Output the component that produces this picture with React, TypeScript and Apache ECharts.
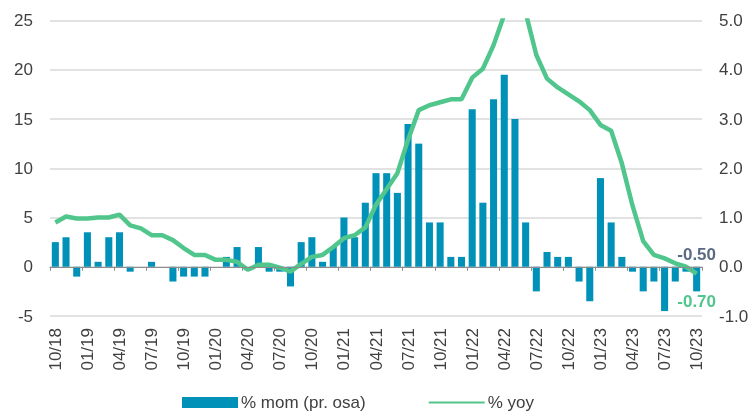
import React, { useEffect, useRef } from "react";
import * as echarts from "echarts";

const categories = [
  "10/18","11/18","12/18","01/19","02/19","03/19","04/19","05/19","06/19","07/19","08/19","09/19",
  "10/19","11/19","12/19","01/20","02/20","03/20","04/20","05/20","06/20","07/20","08/20","09/20",
  "10/20","11/20","12/20","01/21","02/21","03/21","04/21","05/21","06/21","07/21","08/21","09/21",
  "10/21","11/21","12/21","01/22","02/22","03/22","04/22","05/22","06/22","07/22","08/22","09/22",
  "10/22","11/22","12/22","01/23","02/23","03/23","04/23","05/23","06/23","07/23","08/23","09/23",
  "10/23",
];

// % mom (right axis)
const momValues = [
  0.5, 0.6, -0.2, 0.7, 0.1, 0.6, 0.7, -0.1, 0.0, 0.1, 0.0, -0.3,
  -0.2, -0.2, -0.2, 0.0, 0.2, 0.4, 0.0, 0.4, -0.1, -0.1, -0.4, 0.5,
  0.6, 0.1, 0.4, 1.0, 0.6, 1.3, 1.9, 1.9, 1.5, 2.9, 2.5, 0.9,
  0.9, 0.2, 0.2, 3.2, 1.3, 3.4, 3.9, 3.0, 0.9, -0.5, 0.3, 0.2,
  0.2, -0.3, -0.7, 1.8, 0.9, 0.2, -0.1, -0.5, -0.3, -0.9, -0.3, -0.1,
  -0.5,
];

// % yoy (left axis)
const yoyValues = [
  4.5, 5.1, 4.9, 4.9, 5.0, 5.0, 5.3, 4.2, 3.9, 3.2, 3.2, 2.7,
  1.9, 1.2, 1.2, 0.7, 0.7, 0.5, -0.3, 0.2, 0.2, -0.1, -0.5, 0.3,
  1.0, 1.2, 2.0, 2.9, 3.2, 4.0, 6.3, 7.9, 9.5, 12.9, 15.9, 16.4,
  16.7, 17.0, 17.0, 19.2, 20.1, 22.5, 25.6, 27.5, 25.8, 21.5, 19.1, 18.2,
  17.5, 16.8, 15.9, 14.4, 13.8, 10.5, 6.2, 2.6, 1.2, 0.85, 0.35, 0.0,
  -0.7,
];

const leftTicks = { min: -5, max: 25, interval: 5 };
const rightTicks = { min: -1, max: 5, interval: 1 };
const seriesNames = ["% mom (pr. osa)", "% yoy"];

const BAR_COLOR = "#0091B9";
const LINE_COLOR = "#50C68C";
const FONT = "'Liberation Sans', Arial, sans-serif";

export default function App() {
  const ref = useRef<HTMLDivElement>(null);

  useEffect(() => {
    if (!ref.current) return;
    const chart = echarts.init(ref.current, undefined, { renderer: "svg" });
    const last = categories.length - 1;

    const barData = momValues.map((v, i) =>
      i === last
        ? {
            value: v,
            label: {
              show: true,
              position: "top",
              distance: 4,
              formatter: (p: any) => Number(p.value).toFixed(2),
              color: "#5B6A84",
              fontSize: 17,
              fontWeight: "bold",
              fontFamily: FONT,
            },
          }
        : v
    );
    const lineData = yoyValues.map((v, i) =>
      i === last
        ? {
            value: v,
            symbol: "circle",
            symbolSize: 0.01,
            label: {
              show: true,
              position: "bottom",
              distance: 19,
              formatter: (p: any) => Number(p.value).toFixed(2),
              color: LINE_COLOR,
              fontSize: 17,
              fontWeight: "bold",
              fontFamily: FONT,
            },
          }
        : { value: v, symbol: "none" }
    );

    chart.setOption({
      animation: false,
      textStyle: { fontFamily: FONT },
      grid: { left: 50, right: 50, top: 20.5, bottom: 98, containLabel: false },
      legend: {
        data: [
          { name: seriesNames[0], icon: "rect" },
          { name: seriesNames[1], itemStyle: { opacity: 0 } },
        ],
        left: 177,
        top: 389,
        itemWidth: 56,
        itemHeight: 11,
        itemGap: 62,
        textStyle: { fontSize: 17, color: "#404040", fontFamily: FONT, padding: [0, 0, 0, -2] },
      },
      xAxis: [
        {
          type: "category",
          data: categories,
          boundaryGap: true,
          axisLine: { show: true, onZero: true, lineStyle: { color: "#8C8C8C", width: 1.2 } },
          axisTick: { show: true, interval: 2, length: 4, lineStyle: { color: "#8C8C8C" } },
          axisLabel: { show: false },
          splitLine: { show: false },
          z: 5,
        },
        {
          type: "category",
          data: categories,
          position: "bottom",
          boundaryGap: true,
          axisLine: { show: false, onZero: false },
          axisTick: { show: false },
          axisLabel: {
            show: true,
            interval: 2,
            rotate: 90,
            margin: 12,
            fontSize: 17,
            color: "#404040",
            fontFamily: FONT,
          },
          splitLine: { show: false },
        },
      ],
      yAxis: [
        {
          type: "value",
          position: "left",
          min: leftTicks.min,
          max: leftTicks.max,
          interval: leftTicks.interval,
          axisLine: { show: false },
          axisTick: { show: false },
          axisLabel: { fontSize: 17, color: "#404040", margin: 17, fontFamily: FONT },
          splitLine: { show: true, lineStyle: { color: "#D9D9D9", width: 1.5 } },
        },
        {
          type: "value",
          position: "right",
          min: rightTicks.min,
          max: rightTicks.max,
          interval: rightTicks.interval,
          axisLine: { show: false },
          axisTick: { show: false },
          axisLabel: {
            fontSize: 17,
            color: "#404040",
            margin: 17,
            fontFamily: FONT,
            formatter: (v: number) => v.toFixed(1),
          },
          splitLine: { show: false },
        },
      ],
      series: [
        {
          name: seriesNames[0],
          type: "bar",
          xAxisIndex: 0,
          yAxisIndex: 1,
          data: barData,
          barWidth: "66%",
          itemStyle: { color: BAR_COLOR },
          z: 2,
        },
        {
          name: seriesNames[1],
          type: "line",
          xAxisIndex: 0,
          yAxisIndex: 0,
          data: lineData,
          showSymbol: true,
          clip: true,
          lineStyle: { color: LINE_COLOR, width: 4.5 },
          itemStyle: { color: LINE_COLOR },
          z: 3,
        },
      ],
    });

    return () => chart.dispose();
  }, []);

  return (
    <div
      ref={ref}
      style={{ position: "fixed", left: 0, top: 0, width: 752, height: 414 }}
    />
  );
}
